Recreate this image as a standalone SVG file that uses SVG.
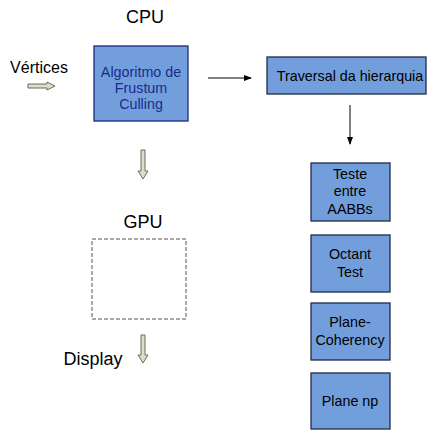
<svg xmlns="http://www.w3.org/2000/svg" width="429" height="431" viewBox="0 0 429 431">
<style>
text{font-family:"Liberation Sans",Arial,sans-serif;fill:#000;text-anchor:middle}
.box{fill:#729fdc;stroke:#1f2a44;stroke-width:1.3}
.blk{fill:#dedec8;stroke:#6b6b60;stroke-width:1}
.t13{font-size:14.3px}
.t18{font-size:18px}
</style>
<defs>
<marker id="ah" markerWidth="8" markerHeight="6" refX="7" refY="3" orient="auto" markerUnits="userSpaceOnUse">
<path d="M0,0 L8,3 L0,6 Z" fill="#000"/>
</marker>
</defs>
<rect width="429" height="431" fill="#fff"/>
<g id="cpu-label"><text class="t18" x="145" y="23">CPU</text></g>
<g id="vertices"><text x="39" y="73" style="font-size:16px">Vértices</text>
<path class="blk" d="M28,84 L47,84 L47,82 L55,86 L47,90 L47,88 L28,88 Z"/></g>
<g id="algoritmo"><rect class="box" x="94" y="46" width="94" height="75" style="stroke:#1a2a7a"/>
<text class="t13" x="141" y="77" style="fill:#1a2a8c">Algoritmo de</text>
<text class="t13" x="141" y="93" style="fill:#1a2a8c">Frustum</text>
<text class="t13" x="141" y="109" style="fill:#1a2a8c">Culling</text></g>
<g id="traversal"><rect class="box" x="267" y="57" width="159" height="37"/>
<text class="t13" x="350" y="81">Traversal da hierarquia</text></g>
<g id="aabb"><rect class="box" x="311" y="163" width="79" height="58"/>
<text class="t13" x="350" y="179">Teste</text><text class="t13" x="350" y="196">entre</text><text class="t13" x="350" y="214">AABBs</text></g>
<g id="octant"><rect class="box" x="311" y="235" width="79" height="57"/>
<text class="t13" x="350" y="259">Octant</text><text class="t13" x="350" y="277">Test</text></g>
<g id="plane-coherency"><rect class="box" x="311" y="303" width="79" height="57"/>
<text class="t13" x="350" y="327">Plane-</text><text class="t13" x="350" y="345">Coherency</text></g>
<g id="plane-np"><rect class="box" x="311" y="373" width="79" height="56"/>
<text class="t13" x="350" y="406">Plane np</text></g>
<g id="gpu-label"><text class="t18" x="143" y="228">GPU</text></g>
<g id="gpu"><rect x="92" y="239" width="94" height="80" fill="none" stroke="#555" stroke-width="1" stroke-dasharray="4,2"/></g>
<g id="display"><text x="93" y="365" style="font-size:18px">Display</text></g>
<g id="connectors">
<line x1="208" y1="78" x2="251" y2="78" stroke="#000" stroke-width="1" marker-end="url(#ah)"/>
<line x1="350" y1="105" x2="350" y2="144" stroke="#000" stroke-width="1" marker-end="url(#ah)"/>
<path class="blk" d="M141,150 L145,150 L145,171 L148,171 L143,179 L138,171 L141,171 Z"/>
<path class="blk" d="M141,335 L145,335 L145,355 L148,355 L143,363 L138,355 L141,355 Z"/>
</g>
</svg>
